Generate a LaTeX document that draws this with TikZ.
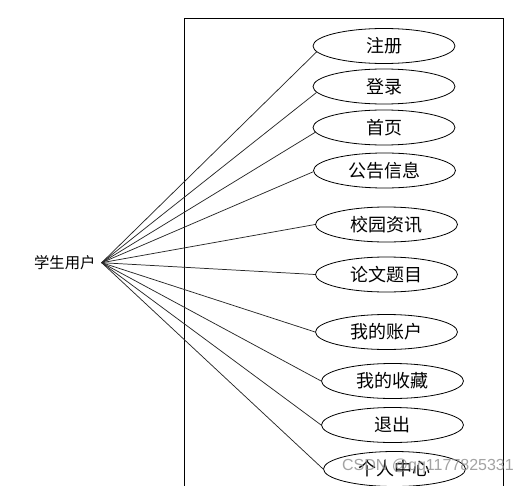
\documentclass[tikz,border=0pt]{standalone}
\usepackage{fontspec}
\newfontfamily\cjk{Noto Sans CJK SC}
\usetikzlibrary{shapes.geometric}
\tikzset{
  uc/.style={draw=black, line width=0.6pt, ellipse, minimum width=106.5pt, minimum height=26.25pt, inner sep=0pt, font=\cjk\fontsize{13.5}{14}\selectfont},
  link/.style={draw=black!85, line width=0.55pt},
}
\begin{document}
\begin{tikzpicture}[x=0.75pt,y=-0.75pt]
\useasboundingbox (0,0) rectangle (531,485);
\clip (0,0) rectangle (531,485);
\fill[white] (0,0) rectangle (531,485);
\draw[line width=0.75pt] (184,500) -- (184,19) -- (503,19) -- (503,500);
\node[anchor=east, inner sep=4.5pt, font=\cjk\fontsize{11.5}{12}\selectfont] (actor) at (101.7,262.7) {学生用户};
\node[uc] (e1) at (384,46) {注册};
\node[uc] (e2) at (384,86.5) {登录};
\node[uc] (e3) at (384,127.5) {首页};
\node[uc] (e4) at (384.5,170.5) {公告信息};
\node[uc] (e5) at (386.5,224.5) {校园资讯};
\node[uc] (e6) at (386.5,274.5) {论文题目};
\node[uc] (e7) at (386.5,332) {我的账户};
\node[uc] (e8) at (392.5,381) {我的收藏};
\node[uc] (e9) at (392.5,425) {退出};
\node[uc] (e10) at (394.5,469) {个人中心};
\draw[link] (actor.east) -- (e1.185);
\draw[link] (actor.east) -- (e2.185);
\draw[link] (actor.east) -- (e3.184);
\draw[link] (actor.east) -- (e4.181);
\draw[link] (actor.east) -- (e5.west);
\draw[link] (actor.east) -- (e6.west);
\draw[link] (actor.east) -- (e7.west);
\draw[link] (actor.east) -- (e8.west);
\draw[link] (actor.east) -- (e9.west);
\draw[link] (actor.east) -- (e10.west);
\node[text=black!45, opacity=0.8, font=\fontspec{Liberation Sans}\fontsize{12}{12}\selectfont, inner sep=0pt] (wm) at (428,466) {CSDN @qq1177825331};
\end{tikzpicture}
\end{document}
